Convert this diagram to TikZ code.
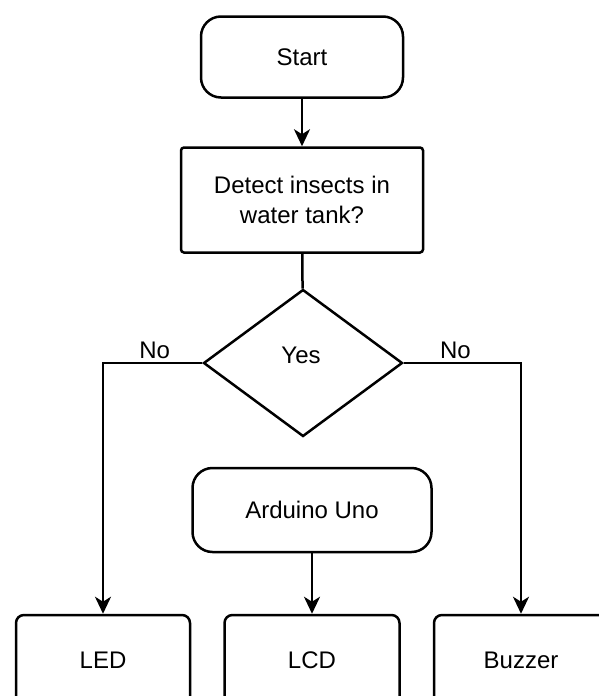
\documentclass[tikz,border=0pt]{standalone}
\usepackage{fontspec}
\setmainfont{Liberation Sans}
\usetikzlibrary{shapes.geometric,arrows.meta}

\tikzset{
  box/.style={draw, line width=2.5pt, inner sep=0pt, align=center},
  roundbox/.style={box, rounded corners=20pt},
  flow/.style={line width=2.5pt, -{Stealth[length=17pt, width=16pt, inset=5pt]}},
}

\begin{document}
\begin{tikzpicture}[x=1pt, y=-1pt, font=\fontsize{24}{30}\selectfont]
    \useasboundingbox (0,0) rectangle (598,696);
    \node [roundbox, minimum width=202pt, minimum height=81pt] (start) at (302,57) {Start};
    \node [box, rounded corners=3pt, minimum width=242pt, minimum height=105pt] (detect) at (302,200) {Detect insects in\\water tank?};
    \node [draw, diamond, line width=2.5pt, inner sep=0pt, minimum width=199pt, minimum height=147pt] (decide) at (303,363) {};
    \node (yes) at (301,355) {Yes};
    \node [roundbox, minimum width=239pt, minimum height=84pt] (arduino) at (312,510) {Arduino Uno};
    \node [box, rounded corners=8pt, minimum width=174pt, minimum height=90pt] (led) at (103,660) {LED};
    \node [box, rounded corners=8pt, minimum width=175pt, minimum height=90pt] (lcd) at (312,660) {LCD};
    \node [box, rounded corners=8pt, minimum width=174pt, minimum height=90pt] (buzzer) at (521,660) {Buzzer};
    \draw [flow] (start) -- (detect);
    \draw [line width=2.5pt] (detect) -- (decide);
    \draw [flow] (decide.west) -| node [pos=0.24, above] {No} (led.north);
    \draw [flow] (decide.east) -| node [pos=0.22, above] {No} (buzzer.north);
    \draw [flow] (arduino) -- (lcd);
\end{tikzpicture}
\end{document}
